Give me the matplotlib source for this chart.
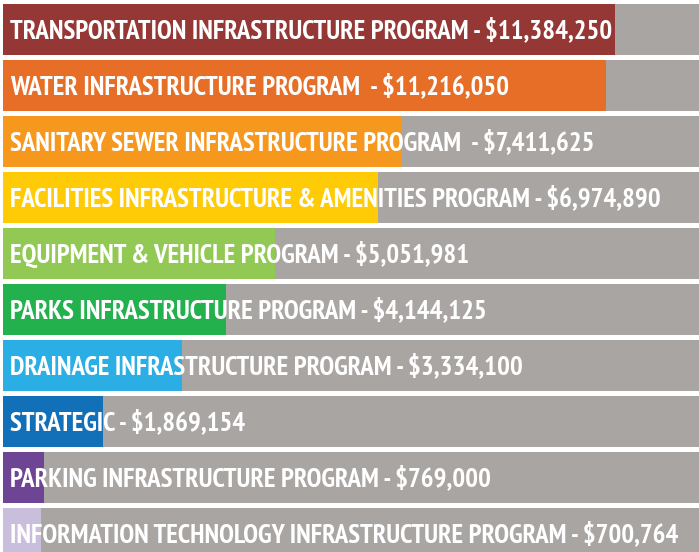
import matplotlib
matplotlib.use("Agg")
import matplotlib.pyplot as plt

programs = [
    "TRANSPORTATION INFRASTRUCTURE PROGRAM",
    "WATER INFRASTRUCTURE PROGRAM ",
    "SANITARY SEWER INFRASTRUCTURE PROGRAM ",
    "FACILITIES INFRASTRUCTURE & AMENITIES PROGRAM",
    "EQUIPMENT & VEHICLE PROGRAM",
    "PARKS INFRASTRUCTURE PROGRAM",
    "DRAINAGE INFRASTRUCTURE PROGRAM",
    "STRATEGIC",
    "PARKING INFRASTRUCTURE PROGRAM",
    "INFORMATION TECHNOLOGY INFRASTRUCTURE PROGRAM",
]
amounts = [11384250, 11216050, 7411625, 6974890, 5051981,
           4144125, 3334100, 1869154, 769000, 700764]
colors = ["#953735", "#E66E26", "#F7981E", "#FECB06", "#92C954",
          "#22B14C", "#2AAEE4", "#1270B8", "#6E4494", "#C9BFDD"]
track_max = 12950000
track_color = "#A9A5A3"

W, H = 699, 552
fig = plt.figure(figsize=(W / 100, H / 100), dpi=100)
ax = fig.add_axes([0, 0, 1, 1])

n = len(programs)
ys = list(range(n))
ax.barh(ys, [track_max] * n, height=0.91, color=track_color)
ax.barh(ys, amounts, height=0.91, color=colors)

ax.set_xlim(-3 / 696 * track_max, track_max)
ax.set_ylim((H - 29.5) / 56, -29.5 / 56)
ax.axis("off")

labels = []
for y, name, amt in zip(ys, programs, amounts):
    t = ax.text(7 / 696 * track_max, y + 0.01, f"{name} - ${amt:,}",
                color="white", fontsize=19, fontweight="bold",
                family=["PT Sans Narrow", "DejaVu Sans"],
                ha="left", va="center")
    labels.append(t)

# fit the longest label to the width it has in the original (~602 px)
fig.canvas.draw()
w = labels[0].get_window_extent().width
size = 19 * 603 / w
for t in labels:
    t.set_fontsize(size)

fig.savefig("out.png", dpi=100)
